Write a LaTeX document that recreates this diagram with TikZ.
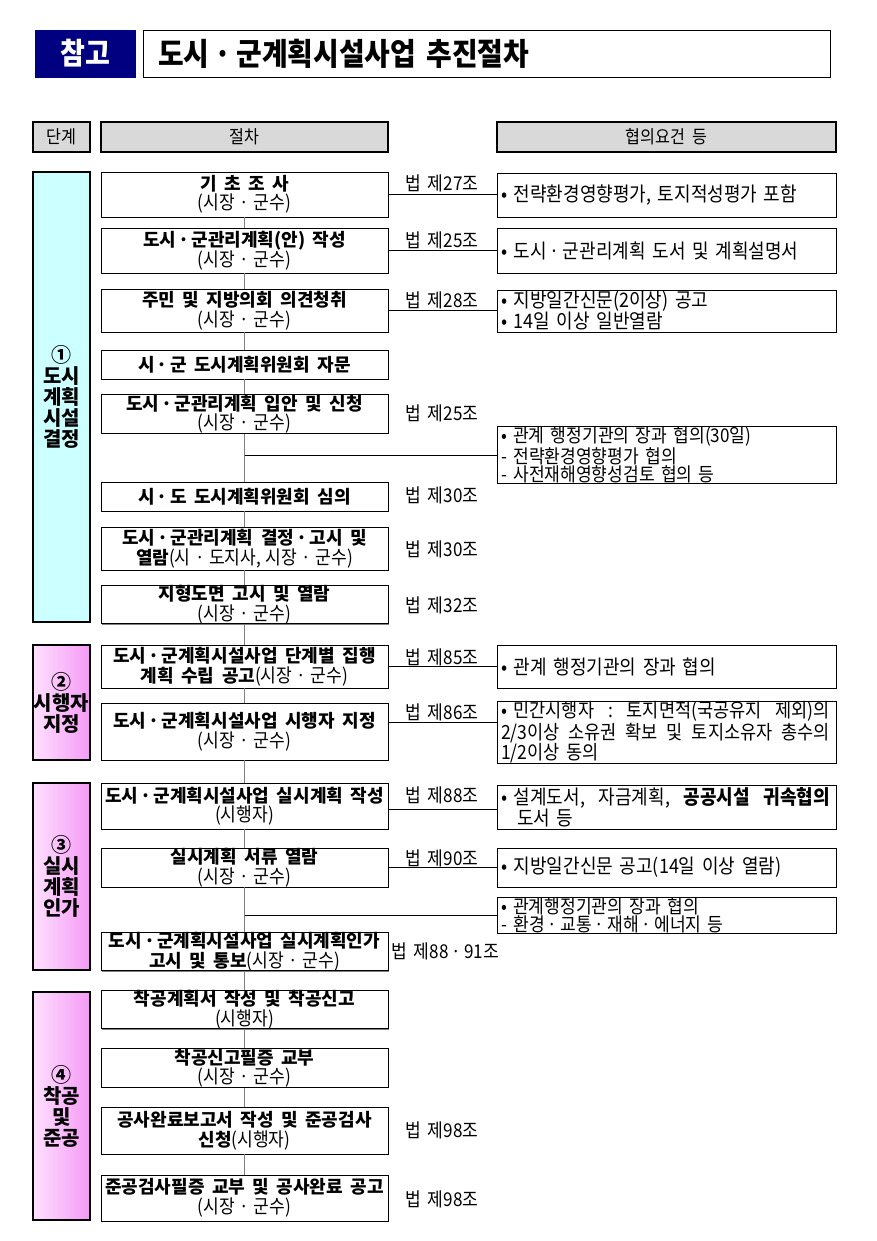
\documentclass[tikz,border=0pt]{standalone}
\usepackage{fontspec}
\setmainfont{Noto Sans CJK KR}
\newfontfamily\condfont{Noto Sans CJK KR}[FakeStretch=0.9]
\usetikzlibrary{shadows,calc}
\definecolor{navybg}{HTML}{000080}
\definecolor{cyanbg}{HTML}{CCFFFF}
\definecolor{pinkL}{HTML}{FFE0FF}
\definecolor{pinkR}{HTML}{F59AF5}
\newcommand\setsp[1]{\spaceskip=#1\relax\xspaceskip=#1\relax}
\newcommand\kdot{\kern0.12em·\kern0.12em}
\newcommand\rdot{\kern3pt·\kern3pt}
\newcommand\fillline[1]{\leavevmode\hbox to 329pt{#1}}
\newcommand\subf[1]{{\condfont\mdseries\fontsize{19pt}{19pt}\selectfont\setsp{4.5pt}#1}}
\newcommand\mainfs{\fontsize{18pt}{19.5pt}\selectfont\bfseries\setsp{7.5pt plus 2pt minus 1pt}}
\newcommand\rfsx[2]{\condfont\fontsize{#1}{#2}\selectfont\setsp{7pt plus 3pt minus 1pt}}
\newcommand\lawfs{\condfont\fontsize{19pt}{19pt}\selectfont\setsp{7pt}}
\newcommand\hdfs{\condfont\fontsize{18pt}{19pt}\selectfont\setsp{7pt}}
\newcommand\stfs{\fontsize{20pt}{21pt}\selectfont\bfseries}
\tikzset{
  shad/.style={drop shadow={shadow xshift=1.2pt,shadow yshift=-1.2pt,fill=black!50,opacity=1}},
  pbox/.style={draw=black, line width=0.9pt, fill=white, shad, inner sep=0pt, align=center, minimum width=287pt, font=\mainfs},
  rbox/.style={draw=black, line width=0.9pt, fill=white, shad, inner xsep=4pt, inner ysep=0pt, text width=331pt, align=left, font=\rfsx{20pt}{19pt}},
  hbox/.style={draw=black, line width=1.8pt, fill=black!15, inner sep=0pt, minimum height=30pt, font=\hdfs},
  sbox/.style={draw=black, line width=1.8pt, inner sep=0pt, minimum width=57pt, align=center, font=\stfs},
  law/.style={anchor=west, inner sep=0pt, font=\lawfs},
  spine/.style={draw=black!50, line width=1.6pt},
  link/.style={draw=black, line width=0.9pt}
}
\begin{document}
\begin{tikzpicture}[x=1pt,y=-1pt]
\path[use as bounding box, fill=white] (0,0) rectangle (877,1241);

% title
\node[fill=navybg, draw=navybg, minimum width=100pt, minimum height=47pt, inner sep=0pt, text=white, font=\condfont\fontsize{30pt}{32pt}\selectfont\bfseries] (t0) at (85,53.5) {참고};
\node[draw=black, line width=0.9pt, shad, fill=white, minimum height=47pt, inner xsep=15pt, inner ysep=0pt, text width=657pt, align=left, font=\condfont\fontsize{31pt}{32pt}\selectfont\bfseries\setsp{9pt}] (t1) at (486.5,53.5) {도시\kern5pt·\kern5pt군계획시설사업 추진절차};

% header
\node[hbox, minimum width=57pt] (h1) at (61.5,137) {단계};
\node[hbox, minimum width=287pt] (h2) at (244.5,137) {절차};
\node[hbox, minimum width=339pt] (h3) at (666.5,137) {협의요건 등};

% stages
\node[sbox, fill=cyanbg, minimum height=450pt] (s1) at (61.5,397) {①\\도시\\계획\\시설\\결정};
\node[sbox, left color=pinkL, right color=pinkR, minimum height=115pt] (s2) at (61.5,702.5) {②\\시행자\\지정};
\node[sbox, left color=pinkL, right color=pinkR, minimum height=187pt] (s3) at (61.5,876.5) {③\\실시\\계획\\인가};
\node[sbox, left color=pinkL, right color=pinkR, minimum height=228pt] (s4) at (61.5,1106) {④\\착공\\및\\준공};

% procedure boxes
\node[pbox, minimum height=45pt] (b1) at (244.5,194.5) {기 초 조 사\\\subf{(시장 · 군수)}};
\node[pbox, minimum height=45pt] (b2) at (244.5,250.5) {도시\kdot 군관리계획(안) 작성\\\subf{(시장 · 군수)}};
\node[pbox, minimum height=43pt] (b3) at (244.5,310.5) {주민 및 지방의회 의견청취\\\subf{(시장 · 군수)}};
\node[pbox, minimum height=29pt] (b4) at (244.5,364.5) {시\kdot 군 도시계획위원회 자문};
\node[pbox, minimum height=38pt] (b5) at (244.5,414) {도시\kdot 군관리계획 입안 및 신청\\\subf{(시장 · 군수)}};
\node[pbox, minimum height=29pt] (b6) at (244.5,496.5) {시\kdot 도 도시계획위원회 심의};
\node[pbox, minimum height=43pt] (b7) at (244.5,548.5) {도시\kdot 군관리계획 결정\kdot 고시 및\\열람\subf{(시 · 도지사, 시장 · 군수)}};
\node[pbox, minimum height=35pt] (b8) at (244.5,604.5) {지형도면 고시 및 열람\\\subf{(시장 · 군수)}};
\node[pbox, minimum height=43pt] (b9) at (244.5,666.5) {도시\kdot 군계획시설사업 단계별 집행\\계획 수립 공고\subf{(시장 · 군수)}};
\node[pbox, minimum height=57pt] (b10) at (244.5,731.5) {도시\kdot 군계획시설사업 시행자 지정\\\subf{(시장 · 군수)}};
\node[pbox, minimum height=46pt] (b11) at (244.5,806) {도시\kdot 군계획시설사업 실시계획 작성\\\subf{(시행자)}};
\node[pbox, minimum height=39pt] (b12) at (244.5,867.5) {실시계획 서류 열람\\\subf{(시장 · 군수)}};
\node[pbox, minimum height=37pt] (b13) at (244.5,951.5) {도시\kdot 군계획시설사업 실시계획인가\\고시 및 통보\subf{(시장 · 군수)}};
\node[pbox, minimum height=37pt] (b14) at (244.5,1009.5) {착공계획서 작성 및 착공신고\\\subf{(시행자)}};
\node[pbox, minimum height=38pt] (b15) at (244.5,1068) {착공신고필증 교부\\\subf{(시장 · 군수)}};
\node[pbox, minimum height=47pt] (b16) at (244.5,1130.5) {공사완료보고서 작성 및 준공검사\\신청\subf{(시행자)}};
\node[pbox, minimum height=46pt] (b17) at (244.5,1198) {준공검사필증 교부 및 공사완료 공고\\\subf{(시장 · 군수)}};

% right boxes
\node[rbox, minimum height=44pt] (r1) at (666.5,195) {• 전략환경영향평가, 토지적성평가 포함};
\node[rbox, minimum height=45pt] (r2) at (666.5,250.5) {• 도시\rdot 군관리계획 도서 및 계획설명서};
\node[rbox, minimum height=42pt, font=\rfsx{20pt}{21pt}] (r3) at (666.5,311) {• 지방일간신문(2이상) 공고\\• 14일 이상 일반열람};
\node[rbox, minimum height=53pt, font=\rfsx{19pt}{16.5pt}] (r4) at (666.5,455) {• 관계 행정기관의 장과 협의(30일)\\- 전략환경영향평가 협의\\- 사전재해영향성검토 협의 등};
\node[rbox, minimum height=43pt] (r5) at (666.5,666.5) {• 관계 행정기관의 장과 협의};
\node[rbox, minimum height=57pt, font=\rfsx{19.5pt}{18pt}] (r6) at (666.5,732.5) {\fillline{• 민간시행자\hfil :\hfil 토지면적(국공유지\hfil 제외)의}\\\fillline{2/3이상\hfil 소유권\hfil 확보\hfil 및\hfil 토지소유자\hfil 총수의}\\1/2이상 동의};
\node[rbox, minimum height=44pt] (r7) at (666.5,807) {\fillline{• 설계도서,\hfil 자금계획,\hfil \textbf{공공시설\hfil 귀속협의}}\\\hspace*{0.8em}도서 등};
\node[rbox, minimum height=39pt] (r8) at (666.5,867.5) {• 지방일간신문 공고(14일 이상 열람)};
\node[rbox, minimum height=36pt, font=\rfsx{19pt}{17pt}] (r9) at (666.5,915) {• 관계행정기관의 장과 협의\\- 환경\rdot 교통\rdot 재해\rdot 에너지 등};

% law labels
\node[law] (l1) at (405,183) {법 제27조};
\node[law] (l2) at (405,240) {법 제25조};
\node[law] (l3) at (405,300) {법 제28조};
\node[law] (l4) at (405,413) {법 제25조};
\node[law] (l5) at (405,495) {법 제30조};
\node[law] (l6) at (405,549) {법 제30조};
\node[law] (l7) at (405,605) {법 제32조};
\node[law] (l8) at (405,657) {법 제85조};
\node[law] (l9) at (405,712) {법 제86조};
\node[law] (l10) at (405,795) {법 제88조};
\node[law] (l11) at (405,858) {법 제90조};
\node[law] (l12) at (391,951) {법 제88\rdot 91조};
\node[law] (l13) at (405,1130) {법 제98조};
\node[law] (l14) at (405,1199) {법 제98조};

% spine
\foreach \a/\b in {b1/b2,b2/b3,b3/b4,b4/b5,b5/b6,b6/b7,b7/b8,b8/b9,b9/b10,b10/b11,b11/b12,b12/b13,b13/b14,b14/b15,b15/b16,b16/b17}
  \draw[spine] (\a.south) -- (\b.north);

% links
\draw[link] (b1.east) -- (b1.east -| r1.west);
\draw[link] (b2.east) -- (b2.east -| r2.west);
\draw[link] (b3.east) -- (b3.east -| r3.west);
\draw[link] (b9.east) -- (b9.east -| r5.west);
\draw[link] ([yshift=9.5pt]b10.east) -- ([yshift=9.5pt]b10.east -| r6.west);
\draw[link] ([yshift=-3pt]b11.east) -- ([yshift=-3pt]b11.east -| r7.west);
\draw[link] (b12.east) -- (b12.east -| r8.west);
\draw[link] (b5.south |- r4.west) -- (r4.west);
\draw[link] (b12.south |- r9.west) -- (r9.west);
\end{tikzpicture}
\end{document}
